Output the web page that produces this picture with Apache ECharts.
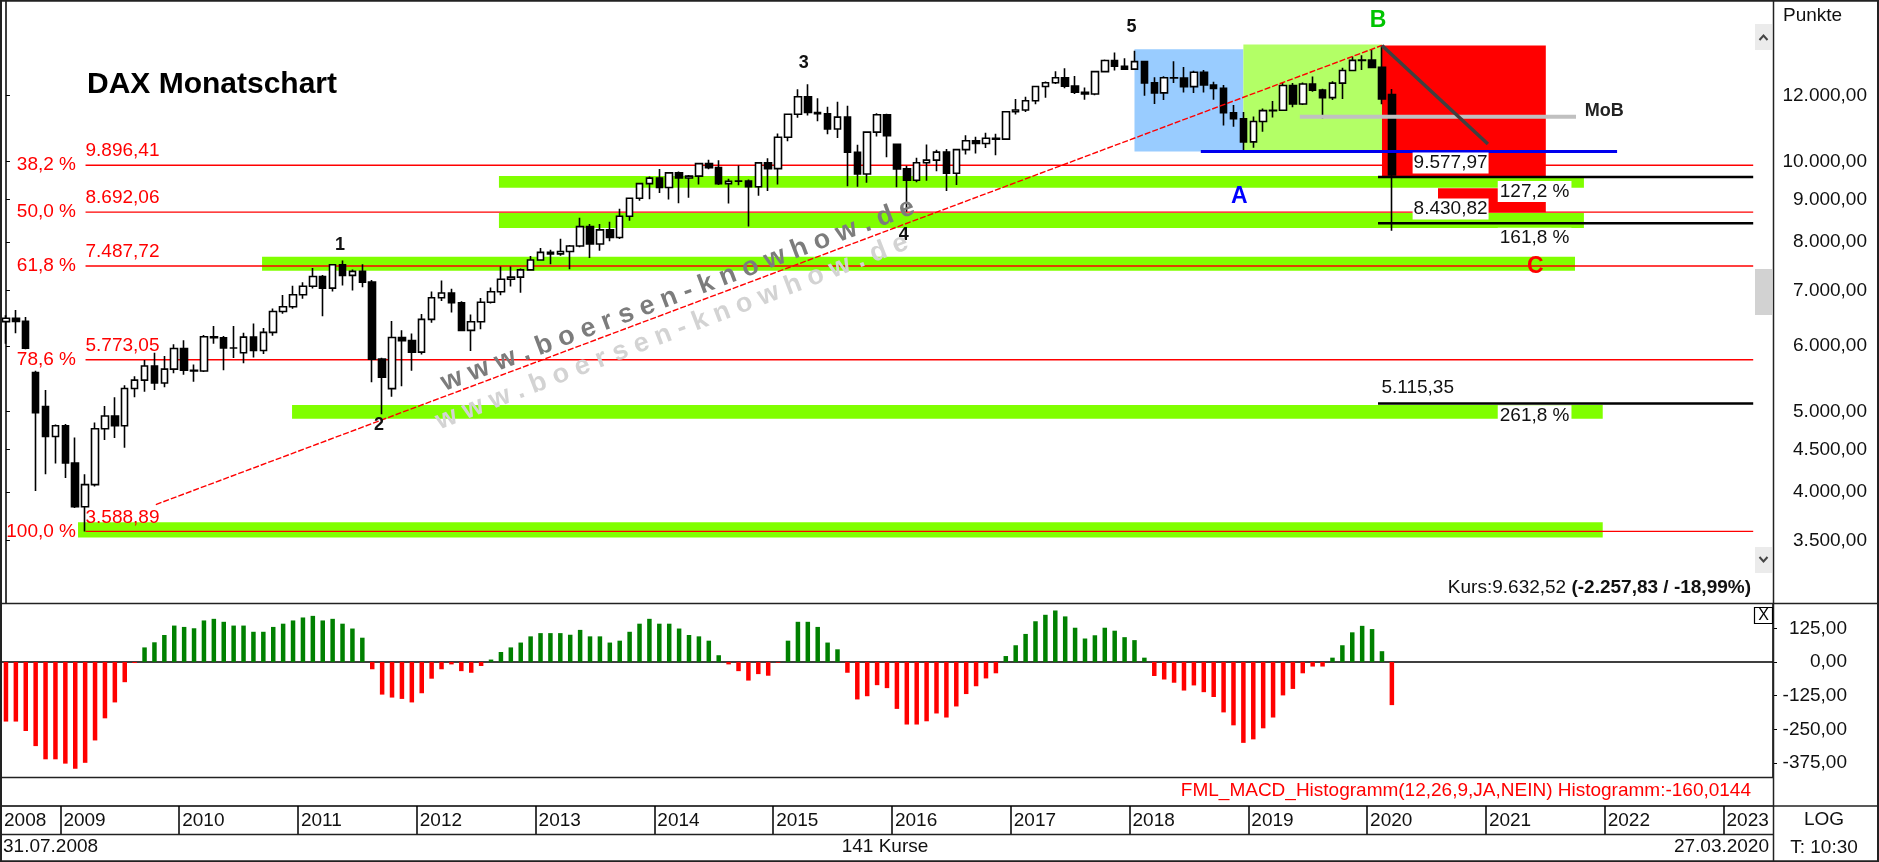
<!DOCTYPE html>
<html><head><meta charset="utf-8">
<script src="https://cdn.jsdelivr.net/npm/echarts@6/dist/echarts.min.js"></script>
<style>html,body{margin:0;padding:0;background:#fff}#c{width:1879px;height:862px}</style>
</head><body><div id="c"></div>
<script>
const FONT = "'Liberation Sans', Arial, sans-serif";

// ---------- categories (months, Jul 2008 .. May 2023) ----------
const firstYear = 2008, firstMonth = 7, slotCount = 179;
const months = [];
for (let i = 0; i < slotCount; i++) {
  const m = firstMonth - 1 + i;
  months.push((firstYear + Math.floor(m / 12)) + '-' + String(m % 12 + 1).padStart(2, '0'));
}

// ---------- monthly candles [open, high, low, close] ----------
const ohlc = [
[6418,6532,6034,6479],[6479,6627,6214,6422],[6422,6499,5945,5960],[5574,5600,4014,4988],[5073,5309,4205,4669],[4669,4826,4331,4810],
[4810,4834,4160,4338],[4338,4655,3830,3843],[3843,4204,3589,4085],[4085,4852,4065,4770],[4770,5081,4622,4941],[4941,5205,4648,4809],
[4809,5382,4524,5332],[5332,5517,5205,5458],[5458,5770,5285,5675],[5675,5888,5311,5415],[5415,5836,5352,5626],[5626,6027,5563,5957],
[5957,6094,5540,5608],[5608,5700,5433,5598],[5598,6186,5580,6154],[6154,6341,6038,6136],[6136,6166,5607,5965],[5965,6342,5802,5966],
[5888,6224,5717,6148],[6148,6386,5809,5925],[5925,6306,5866,6229],[6229,6654,6170,6601],[6601,6907,6560,6688],[6688,7087,6650,6914],
[6914,7158,6837,7077],[7077,7443,7034,7273],[7273,7303,6513,7041],[7041,7527,6975,7514],[7514,7600,7093,7294],[7294,7414,6996,7376],
[7376,7524,7057,7159],[7159,7201,5424,5785],[5785,5808,4965,5502],[5330,6430,5210,6141],[6141,6267,5366,6089],[6089,6212,5602,5898],
[5898,6554,5860,6458],[6458,6974,6396,6856],[6856,7194,6796,6947],[6947,7029,6581,6761],[6761,6788,6258,6264],[6264,6546,5915,6416],
[6416,6852,6284,6772],[6772,7053,6750,6970],[6970,7479,6903,7216],[7216,7478,7074,7260],[7260,7435,6951,7406],[7406,7695,7400,7612],
[7612,7871,7600,7776],[7776,7834,7525,7742],[7742,8074,7700,7795],[7795,7934,7418,7914],[7914,8558,7884,8349],[8349,8413,7655,7959],
[7959,8409,7809,8276],[8276,8466,8016,8103],[8103,8771,8067,8594],[8594,9049,8488,9033],[9033,9424,8973,9406],[9406,9594,9005,9552],
[9552,9794,9165,9306],[9306,9714,8999,9692],[9692,9729,8907,9556],[9556,9631,9045,9603],[9603,9962,9382,9943],[9943,10050,9791,9833],
[9833,10033,9373,9407],[9407,9533,8903,9470],[9470,9891,9365,9474],[9474,9515,8355,9327],[9327,9980,9093,9963],[9963,10093,9218,9806],
[9806,10811,9382,10694],[10694,11402,10581,11401],[11401,12219,11293,11966],[11966,12391,11361,11454],[11454,11920,11179,11414],[11414,11636,10787,10945],
[10945,11802,10677,11309],[11309,11670,9338,10259],[10259,10474,9325,9660],[9660,10851,9428,10850],[10850,11430,10719,11382],[11382,11416,10123,10743],
[10486,10486,9314,9798],[9798,9885,8699,9495],[9495,10104,9445,9966],[9966,10486,9484,10039],[10039,10332,9737,10263],[10263,10356,9214,9680],
[9680,10338,9373,10337],[10337,10755,10194,10593],[10593,10712,10225,10511],[10511,10827,10380,10665],[10665,10802,10175,10640],[10640,11482,10614,11481],
[11481,11893,11395,11535],[11535,11968,11475,11834],[11834,12313,11718,12312],[12312,12486,11935,12438],[12438,12841,12397,12615],[12615,12952,12250,12325],
[12325,12676,12057,12118],[12118,12277,11868,12056],[12056,12833,12020,12829],[12829,13269,12815,13230],[13230,13526,12865,13024],[13024,13309,12906,12918],
[12918,13597,12900,13189],[13189,13205,12003,12436],[12436,12631,11727,12097],[12097,12669,11856,12612],[12612,13205,12433,12605],[12605,12993,12104,12306],
[12306,12858,12095,12806],[12806,12887,12106,12364],[12364,12474,11865,12247],[12247,12361,11051,11448],[11448,11693,11010,11257],[11257,11470,10279,10559],
[10559,11331,10387,11173],[11173,11586,10864,11516],[11516,11823,11299,11526],[11526,12435,11500,12344],[12344,12435,11621,11727],[11727,12445,11700,12399],
[12399,12656,12133,12189],[12189,12235,11266,11939],[11939,12494,11857,12428],[12428,12965,11889,12867],[12867,13374,12850,13236],[13236,13425,12887,13249],
[13249,13640,12948,12981],[12981,13795.24,11724,11890.35],[12040,12230,8255.65,9632.52]
];

// ---------- MACD histogram (12,26,9), one value per candle ----------
const macdHist = [
-221,-221,-256,-312,-361,-361,-377,-396,-374,-291,-209,-150,-75,-4,
54,73,100,135,130,125,154,160,149,135,135,112,112,130,142,154,165,171,154,160,142,124,90,
-27,-121,-132,-137,-150,-116,-62,-27,-9,-34,-40,-15,
9,37,54,72,95,107,107,107,101,119,95,95,72,79,112,142,160,142,142,124,100,95,79,25,
-9,-34,-69,-45,-51,-3,
79,149,149,130,72,47,
-40,-139,-127,-86,-97,-174,-232,-232,-220,-191,-206,-165,-119,-90,-61,-42,
22,62,104,151,175,191,169,127,87,99,127,116,92,81,16,
-52,-65,-77,-106,-87,-112,-130,-187,-235,-300,-287,-246,-206,-124,-100,-42,-17,-17,
16,62,110,134,122,40,
-160
];

// ---------- axis ticks ----------
const priceTicks = [3500, 4000, 4500, 5000, 6000, 7000, 8000, 9000, 10000, 12000];
const macdTicks = [-375, -250, -125, 0, 125];

// ---------- Fibonacci retracement levels ----------
const fibPct = ['38,2 %', '50,0 %', '61,8 %', '78,6 %', '100,0 %'];
const fibValues = [9896.41, 8692.06, 7487.72, 5773.05, 3588.89];
const fibSpan = [8.04, 176.5];             // slot positions (start, end)

// ---------- extension / target lines ----------
const targetValues = [9577.97, 8430.82, 5115.35];
const targetSpan = [138.6, 176.5];
const targetLabelPos = [142.1, 142.1, 138.85];
const extPct = ['127,2 %', '161,8 %', '261,8 %'];
const extPctPos = [[150.7, 9199], [150.7, 8085], [150.7, 4942]];

// ---------- support zones [slotFrom, low, slotTo, high] ----------
const zones = [
  [49.8, 9301, 159.4, 9608],
  [49.8, 8319, 159.4, 8672],
  [25.87, 7391, 158.5, 7683],
  [28.9, 4905, 161.3, 5095],
  [7.28, 3528, 161.3, 3681]
];
// ---------- wave boxes [slotFrom, low, slotTo, high] ----------
const boxes = [
  [114, 10279.2, 125, 13650],
  [125, 10279.2, 139, 13830],
  [139, 9577.97, 155.55, 13795.24],
  [144.66, 8692.06, 155.55, 9286]
];
const boxColors = ['#99ccff', '#b3ff66', '#ff0000', '#ff0000'];

// ---------- other lines ----------
const lowLine = [[120.7, 10279.2], [162.75, 10279.2]];
const mobLine = [[130.7, 11321], [158.6, 11321]];
const fallLine = [[139, 13795.24], [149.7, 10498]];
const trendLine = [[15.14, 3866], [139, 13795.24]];

// ---------- wave labels ----------
const waveNums = [['1', 33.75, 7936], ['2', 37.7, 4821], ['3', 80.6, 13150], ['4', 90.7, 8159], ['5', 113.7, 14528]];
const waveLetters = [['A', 124.6, 9072], ['B', 138.6, 14759], ['C', 154.5, 7473]];
const letterColors = ['#0000ff', '#00c400', '#ff0000'];
const mobLabel = ['MoB', 159.5, 11487];

// ---------- helpers ----------
function fmt(v, d) {
  const neg = v < 0;
  const s = Math.abs(v).toFixed(d).split('.');
  const i = s[0].replace(/\B(?=(\d{3})+(?!\d))/g, '.');
  return (neg ? '-' : '') + i + (s[1] ? ',' + s[1] : '');
}
const yearBounds = [];
for (let i = 0; i < slotCount; i++) if ((firstMonth - 1 + i) % 12 === 0) yearBounds.push(i - 0.5);
const yearLabelPos = [-0.5].concat(yearBounds);
function yearOf(u) { const idx = Math.round(u + 0.5); return firstYear + Math.floor((firstMonth - 1 + idx) / 12); }

function lineSeries(points, color, width, z, type) {
  return { type: 'line', xAxisIndex: 1, yAxisIndex: 0, data: points, showSymbol: false, symbol: 'none',
    silent: true, z: z, lineStyle: { color: color, width: width, type: type || 'solid' } };
}
function rectSeries(rows, colors, z) {
  return { type: 'custom', xAxisIndex: 1, yAxisIndex: 0, silent: true, z: z, data: rows,
    renderItem: function (params, api) {
      const p1 = api.coord([api.value(0), api.value(1)]);
      const p2 = api.coord([api.value(2), api.value(3)]);
      return { type: 'rect', shape: { x: Math.min(p1[0], p2[0]), y: Math.min(p1[1], p2[1]),
        width: Math.abs(p2[0] - p1[0]), height: Math.abs(p2[1] - p1[1]) },
        style: { fill: colors[params.dataIndex % colors.length] } };
    } };
}
function txt(text, u, v, label) {
  return { value: [u, v], label: Object.assign({ show: true, formatter: text, position: [0, 0],
    fontFamily: FONT, fontSize: 19, color: '#000' }, label) };
}

const labels = [];
fibValues.forEach((v, i) => {
  labels.push(txt(fibPct[i], fibSpan[0] - 0.96, v, { align: 'right', verticalAlign: 'middle', color: '#ff0000' }));
  labels.push(txt(fmt(v, 2), fibSpan[0], v, { align: 'left', verticalAlign: 'middle', offset: [0, -14], color: '#ff0000' }));
});
targetValues.forEach((v, i) => {
  labels.push(txt(fmt(v, 2), targetLabelPos[i], v, { align: 'left', verticalAlign: 'middle', offset: [0, i === 2 ? -16 : -14],
    backgroundColor: '#ffffff', padding: [1, 1], color: '#111' }));
});
extPct.forEach((t, i) => {
  labels.push(txt(t, extPctPos[i][0], extPctPos[i][1], { align: 'left', verticalAlign: 'middle', backgroundColor: '#ffffff', padding: [1, 2], color: '#111' }));
});
waveNums.forEach(w => labels.push(txt(w[0], w[1], w[2], { align: 'center', verticalAlign: 'middle', fontSize: 18, fontWeight: 'bold', color: '#111' })));
waveLetters.forEach((w, i) => labels.push(txt(w[0], w[1], w[2], { align: 'center', verticalAlign: 'middle', fontSize: 23, fontWeight: 'bold', color: letterColors[i] })));
labels.push(txt(mobLabel[0], mobLabel[1], mobLabel[2], { align: 'left', verticalAlign: 'middle', fontSize: 18, fontWeight: 'bold', color: '#222' }));

const series = [];
series.push(rectSeries(boxes, boxColors, 1));
series.push(rectSeries(zones, ['#80ff00'], 1));
fibValues.forEach(v => series.push(lineSeries([[fibSpan[0], v], [fibSpan[1], v]], '#ff0000', 1.4, 2)));
series.push({ type: 'candlestick', xAxisIndex: 0, yAxisIndex: 0, z: 3, silent: true, barWidth: 7,
  data: ohlc.map(r => [r[0], r[3], r[2], r[1]]),
  itemStyle: { color: '#ffffff', color0: '#000000', borderColor: '#000000', borderColor0: '#000000', borderColorDoji: '#000000', borderWidth: 1.6 } });
series.push(lineSeries(trendLine, '#ff0000', 1.4, 4, [6, 2]));
series.push(lineSeries(lowLine, '#0000ee', 3, 4));
series.push(lineSeries(mobLine, '#c0c0c0', 4, 4));
series.push(lineSeries(fallLine, '#404040', 3.5, 4));
targetValues.forEach(v => series.push(lineSeries([[targetSpan[0], v], [targetSpan[1], v]], '#000000', 2.5, 4)));
series.push({ type: 'scatter', xAxisIndex: 1, yAxisIndex: 0, z: 6, silent: true, symbolSize: 0.1,
  itemStyle: { color: 'rgba(0,0,0,0)', opacity: 1 }, data: labels });
series.push({ type: 'bar', xAxisIndex: 2, yAxisIndex: 1, barWidth: 4.5, silent: true,
  data: macdHist.map(v => ({ value: v, itemStyle: { color: v >= 0 ? '#008000' : '#ff0000' } })) });

const last = ohlc[ohlc.length - 1][3], prev = ohlc[ohlc.length - 2][3];
const diff = last - prev, pct = diff / prev * 100;

const axisFont = { fontFamily: FONT, fontSize: 19, color: '#111' };
const plain = { fontFamily: FONT, fontSize: 19, fontWeight: 'normal', color: '#111' };
const option = {
  animation: false,
  backgroundColor: '#ffffff',
  grid: [
    { left: 1, top: 1, width: 1772, height: 602, outerBoundsMode: 'none' },
    { left: 1, top: 604, width: 1772, height: 173, outerBoundsMode: 'none' },
    { left: 1, top: 806, width: 1772, height: 28, outerBoundsMode: 'none' }
  ],
  xAxis: [
    { type: 'category', gridIndex: 0, data: months, boundaryGap: true, show: false },
    { type: 'value', gridIndex: 0, min: -0.5, max: slotCount - 0.5, show: false },
    { type: 'category', gridIndex: 1, data: months, boundaryGap: true,
      axisLine: { show: true, onZero: true, lineStyle: { color: '#000', width: 1.5 } },
      axisTick: { show: false }, axisLabel: { show: false }, splitLine: { show: false } },
    { type: 'value', gridIndex: 2, min: -0.5, max: slotCount - 0.5, position: 'top',
      axisLine: { show: true, onZero: false, lineStyle: { color: '#000', width: 1.5 } },
      axisTick: { show: true, inside: true, length: 28, customValues: yearBounds, lineStyle: { color: '#000', width: 1.5 } },
      axisLabel: Object.assign({ show: true, customValues: yearLabelPos, inside: true, align: 'left', verticalAlign: 'middle',
        margin: 15, padding: [0, 0, 0, 3], formatter: v => String(yearOf(v)) }, axisFont),
      splitLine: { show: false } }
  ],
  yAxis: [
    { type: 'log', logBase: 10, gridIndex: 0, position: 'right', min: 2943, max: 15602,
      axisLine: { show: true, lineStyle: { color: '#000', width: 1.5 } },
      axisTick: { show: true, length: 4, customValues: priceTicks, lineStyle: { color: '#000' } },
      axisLabel: Object.assign({ show: true, customValues: priceTicks, align: 'right', margin: 94, formatter: v => fmt(v, 2) }, axisFont),
      splitLine: { show: false } },
    { type: 'value', gridIndex: 1, position: 'right', min: -426.6, max: 215,
      axisLine: { show: true, lineStyle: { color: '#000', width: 1.5 } },
      axisTick: { show: true, length: 4, customValues: macdTicks, lineStyle: { color: '#000' } },
      axisLabel: Object.assign({ show: true, customValues: macdTicks, align: 'right', margin: 74, formatter: v => fmt(v, 2) }, axisFont),
      splitLine: { show: false } },
    { type: 'value', gridIndex: 2, min: 0, max: 1, show: false }
  ],
  title: [
    { text: 'DAX Monatschart', left: 87, top: 70, padding: 0, textStyle: { fontFamily: FONT, fontSize: 30, fontWeight: 'bold', color: '#000' } },
    { text: 'Punkte', left: 1783, top: 6, padding: 0, textStyle: plain },
    { text: '{a|Kurs:' + fmt(last, 2) + ' }{b|(' + fmt(diff, 2) + ' / ' + fmt(pct, 2) + '%)}', right: 128, top: 578, padding: 0,
      textStyle: { fontFamily: FONT, fontSize: 19, fontWeight: 'normal', color: '#111',
        rich: { a: { fontFamily: FONT, fontSize: 19, fontWeight: 'normal', color: '#111' }, b: { fontFamily: FONT, fontSize: 19, fontWeight: 'bold', color: '#111' } } } },
    { text: 'FML_MACD_Histogramm(12,26,9,JA,NEIN) Histogramm:-160,0144', right: 128, top: 781, padding: 0,
      textStyle: { fontFamily: FONT, fontSize: 19, fontWeight: 'normal', color: '#ff0000' } },
    { text: '31.07.2008', left: 3, top: 837, padding: 0, textStyle: plain },
    { text: ohlc.length + ' Kurse', left: 885, textAlign: 'center', top: 837, padding: 0, textStyle: plain },
    { text: '27.03.2020', right: 110, top: 837, padding: 0, textStyle: plain },
    { text: 'LOG', left: 1824, textAlign: 'center', top: 810, padding: 0, textStyle: plain },
    { text: 'T: 10:30', left: 1824, textAlign: 'center', top: 838, padding: 0, textStyle: plain }
  ],
  graphic: [
    { type: 'rect', silent: true, z: 50, shape: { x: 1, y: 0.75, width: 1877, height: 860.5 }, style: { fill: 'none', stroke: '#222', lineWidth: 2 } },
    { type: 'line', silent: true, z: 50, shape: { x1: 0, y1: 603.5, x2: 1879, y2: 603.5 }, style: { stroke: '#222', lineWidth: 1.5 } },
    { type: 'line', silent: true, z: 50, shape: { x1: 0, y1: 777.5, x2: 1773.5, y2: 777.5 }, style: { stroke: '#222', lineWidth: 1.5 } },
    { type: 'line', silent: true, z: 50, shape: { x1: 1773.5, y1: 806, x2: 1879, y2: 806 }, style: { stroke: '#222', lineWidth: 1.5 } },
    { type: 'line', silent: true, z: 50, shape: { x1: 0, y1: 834.5, x2: 1773.5, y2: 834.5 }, style: { stroke: '#222', lineWidth: 1.5 } },
    { type: 'line', silent: true, z: 50, shape: { x1: 1773.5, y1: 0, x2: 1773.5, y2: 862 }, style: { stroke: '#222', lineWidth: 1.5 } },
    { type: 'rect', silent: true, z: 50, shape: { x: 1755, y: 24, width: 17, height: 26 }, style: { fill: '#ebebeb' } },
    { type: 'polyline', silent: true, z: 51, shape: { points: [[1759.5, 40], [1763.5, 35.5], [1767.5, 40]] }, style: { stroke: '#444', lineWidth: 2, fill: 'none' } },
    { type: 'rect', silent: true, z: 50, shape: { x: 1755, y: 547, width: 17, height: 26 }, style: { fill: '#ebebeb' } },
    { type: 'polyline', silent: true, z: 51, shape: { points: [[1759.5, 557], [1763.5, 561.5], [1767.5, 557]] }, style: { stroke: '#444', lineWidth: 2, fill: 'none' } },
    { type: 'rect', silent: true, z: 50, shape: { x: 1755, y: 269, width: 17, height: 46 }, style: { fill: '#d2d2d2' } },
    { type: 'rect', silent: true, z: 50, shape: { x: 1754.5, y: 607.5, width: 18, height: 16 }, style: { fill: '#fff', stroke: '#000', lineWidth: 1.2 } },
    { type: 'text', silent: true, z: 51, x: 1763.5, y: 616, style: { text: 'X', font: "16px 'Liberation Sans', Arial", fill: '#000', align: 'center', verticalAlign: 'middle', textAlign: 'center', textVerticalAlign: 'middle' } },
    { type: 'text', silent: true, z: 40, x: 678, y: 295, rotation: 0.361,
      style: { text: 'w w w . b o e r s e n - k n o w h o w . d e', font: "bold 27px 'Liberation Sans', Arial", fill: '#7c7c7c',
        align: 'center', verticalAlign: 'middle', textAlign: 'center', textVerticalAlign: 'middle' } },
    { type: 'text', silent: true, z: 40, x: 672, y: 332, rotation: 0.368,
      style: { text: 'w w w . b o e r s e n - k n o w h o w . d e', font: "bold 27px 'Liberation Sans', Arial", fill: '#d3d3d3',
        align: 'center', verticalAlign: 'middle', textAlign: 'center', textVerticalAlign: 'middle' } }
  ],
  series: series
};

const chart = echarts.init(document.getElementById('c'), null, { renderer: 'canvas' });
chart.setOption(option);
</script>
</body></html>
